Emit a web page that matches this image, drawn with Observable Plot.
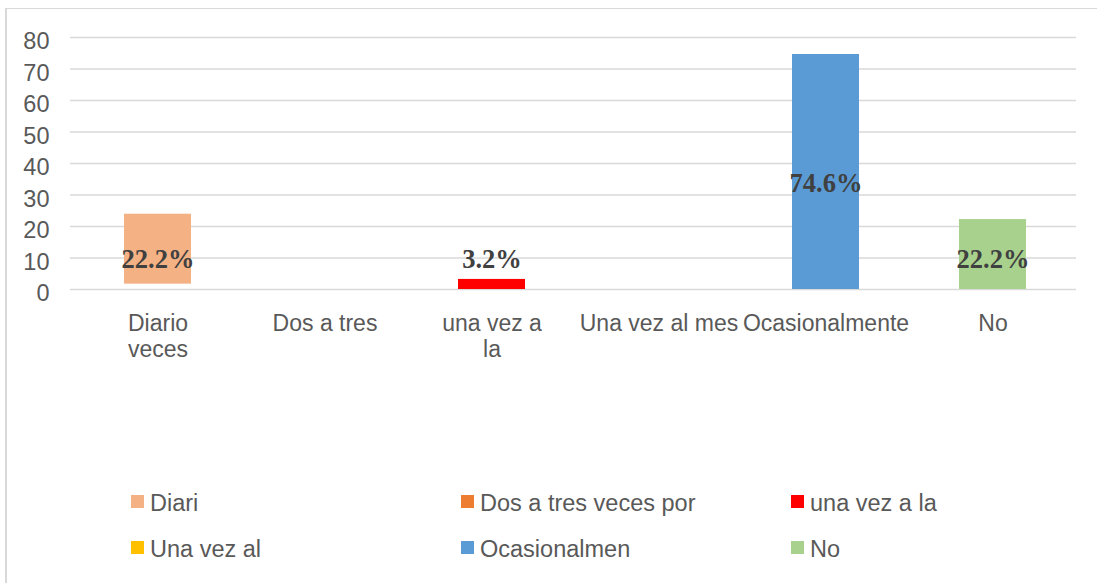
<!DOCTYPE html>
<html>
<head>
<meta charset="utf-8">
<script src="https://cdn.jsdelivr.net/npm/d3@7"></script>
<script src="https://cdn.jsdelivr.net/npm/@observablehq/plot@0.6"></script>
<style>
  html, body { margin: 0; padding: 0; background: #fff; overflow: hidden; }
  body { position: relative; width: 1097px; height: 583px; font-family: "Liberation Sans", Arial, sans-serif; }
  #frame { position: absolute; left: 5px; top: 8px; width: 1200px; height: 700px;
           border-left: 2px solid #d9d9d9; border-top: 1.5px solid #d9d9d9; box-sizing: border-box; pointer-events: none; }
  #chart { position: relative; }
  #legend { position: relative; margin-top: 110px; padding-left: 131px; display: grid;
            grid-template-columns: repeat(3, 330px); grid-auto-rows: 46px; }
  .item { display: flex; align-items: center; font-size: 23.5px; color: #595959; }
  .sw { width: 13px; height: 13px; margin-right: 6px; margin-top: -4px; flex: none; }
</style>
</head>
<body>
<div id="frame"></div>
<div id="chart"></div>
<div id="legend"></div>
<script>
const categories = ["Diario\nveces", "Dos a tres", "una vez a\nla", "Una vez al mes", "Ocasionalmente", "No"];
const legendNames = ["Diari", "Dos a tres veces por", "una vez a la", "Una vez al", "Ocasionalmen", "No"];
const barBase = [1.7, 0, 0, 0, 0, 0];
const values = [22.2, 0, 3.2, 0, 74.6, 22.2];
const labelAt = [9.6, null, 9.4, null, 33.6, 9.6];
const colors = ["#f4b183", "#ed7d31", "#ff0000", "#ffc000", "#5b9bd5", "#a9d18e"];
const yTicks = [0, 10, 20, 30, 40, 50, 60, 70, 80];

const rows = categories.map((c, i) => ({
  cat: c, base: barBase[i], top: barBase[i] + values[i], value: values[i], labelAt: labelAt[i]
}));

const chart = Plot.plot({
  width: 1097, height: 370,
  marginLeft: 70, marginRight: 21, marginTop: 37, marginBottom: 81,
  style: { fontFamily: "'Liberation Sans', Arial, sans-serif", background: "transparent", overflow: "visible" },
  x: { domain: categories, paddingInner: 0.6, paddingOuter: 0.3, insetLeft: 3, label: null },
  y: { domain: [0, 80], label: null },
  color: { domain: categories, range: colors },
  marks: [
    Plot.ruleY(yTicks, { stroke: "#d9d9d9", strokeWidth: 1.5 }),
    Plot.barY(rows.filter(d => d.value > 0), { x: "cat", y1: "base", y2: "top", fill: "cat" }),
    Plot.text(rows.filter(d => d.labelAt != null), {
      x: "cat", y: "labelAt", text: d => d.value.toFixed(1) + "%",
      fontFamily: "'Liberation Serif', 'Times New Roman', serif", fontWeight: "bold",
      fontSize: 26.5, fill: "#404040"
    }),
    Plot.axisY({ ticks: yTicks, tickSize: 0, tickPadding: 21, fontSize: 23.5, color: "#595959", dy: 4, label: null }),
    Plot.axisX({ tickSize: 0, tickPadding: 23, fontSize: 23, color: "#595959", lineHeight: 1.12, label: null })
  ]
});
document.getElementById("chart").appendChild(chart);

const legend = document.getElementById("legend");
legendNames.forEach((name, i) => {
  const item = document.createElement("div");
  item.className = "item";
  const sw = document.createElement("span");
  sw.className = "sw";
  sw.style.background = colors[i];
  const t = document.createElement("span");
  t.textContent = name;
  item.appendChild(sw);
  item.appendChild(t);
  legend.appendChild(item);
});
</script>
</body>
</html>
